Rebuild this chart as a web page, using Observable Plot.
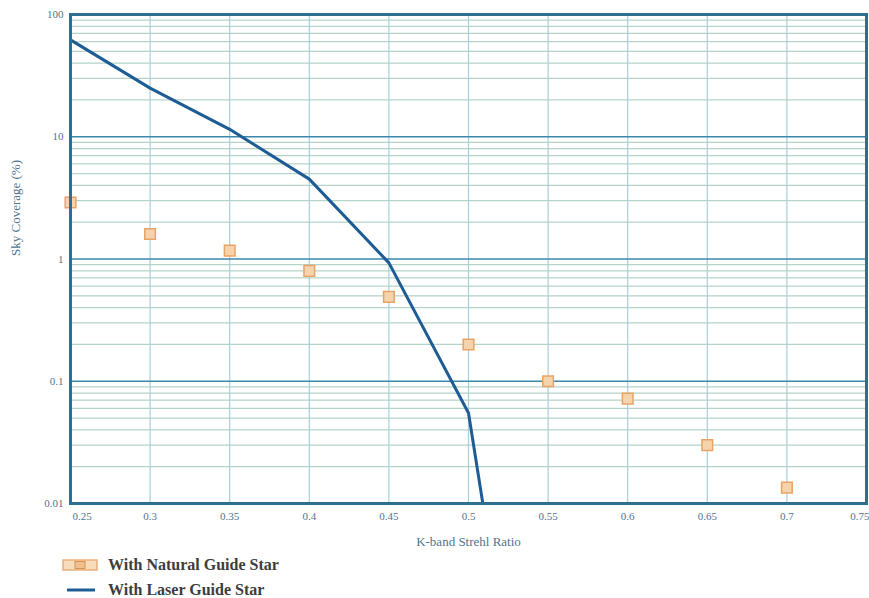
<!DOCTYPE html>
<html>
<head>
<meta charset="utf-8">
<script src="https://cdn.jsdelivr.net/npm/d3@7"></script>
<script src="https://cdn.jsdelivr.net/npm/@observablehq/plot@0.6"></script>
<style>
  html, body { margin: 0; padding: 0; background: #fff; }
  #chart { width: 869px; }
  #chart svg text { font-family: "Liberation Serif", "DejaVu Serif", serif !important; }
  .legend { font-family: "Liberation Serif", "DejaVu Serif", serif; font-weight: bold; font-size: 16px; color: #3d3d3d; margin-left: 62px; }
  .legend .row { display: flex; align-items: center; height: 25px; }
  .legend svg { margin-right: 10px; }
</style>
</head>
<body>
<div id="chart"></div>
<script>
// Strehl ratio (x) values
const strehlNGS = [0.25, 0.3, 0.35, 0.4, 0.45, 0.5, 0.55, 0.6, 0.65, 0.7];
// Sky coverage (%) with natural guide star
const coverageNGS = [2.9, 1.6, 1.17, 0.8, 0.49, 0.2, 0.1, 0.072, 0.03, 0.0135];
// Laser guide star curve
const strehlLGS = [0.25, 0.3, 0.35, 0.4, 0.45, 0.5, 0.509];
const coverageLGS = [62, 25, 11.5, 4.5, 0.93, 0.055, 0.01];

const xTicks = [0.25, 0.3, 0.35, 0.4, 0.45, 0.5, 0.55, 0.6, 0.65, 0.7, 0.75];
const xTickLabels = ["0.25", "0.3", "0.35", "0.4", "0.45", "0.5", "0.55", "0.6", "0.65", "0.7", "0.75"];
const yMajor = [0.01, 0.1, 1, 10, 100];
const yMajorLabels = ["0.01", "0.1", "1", "10", "100"];
const yMinor = [0.02, 0.03, 0.04, 0.05, 0.06, 0.07, 0.08, 0.09,
                0.2, 0.3, 0.4, 0.5, 0.6, 0.7, 0.8, 0.9,
                2, 3, 4, 5, 6, 7, 8, 9,
                20, 30, 40, 50, 60, 70, 80, 90];
const xTitle = "K-band Strehl Ratio";
const yTitle = "Sky Coverage (%)";

const ngs = strehlNGS.map((x, i) => ({x, y: coverageNGS[i]}));
const lgs = strehlLGS.map((x, i) => ({x, y: coverageLGS[i]}));

const serif = "Liberation Serif, DejaVu Serif, serif";
const fmtX = d => xTickLabels[xTicks.indexOf(d)];
const tickColor = "#4f7590";

const plot = Plot.plot({
  width: 869,
  height: 552,
  marginTop: 14,
  marginLeft: 70,
  marginRight: 3,
  marginBottom: 49,
  style: {fontFamily: serif, fontSize: "11px", color: tickColor, background: "#fff"},
  x: {domain: [0.25, 0.75], label: null},
  y: {type: "log", domain: [0.01, 100], label: null},
  marks: [
    Plot.ruleY(yMinor, {stroke: "#b5d3c6", strokeWidth: 1.2}),
    Plot.ruleX(xTicks, {stroke: "#a8cfdc", strokeWidth: 1.2}),
    Plot.ruleY(yMajor, {stroke: "#3c86ad", strokeWidth: 1.6}),
    Plot.axisX(xTicks.slice(1, -1), {tickFormat: fmtX, tickSize: 0, tickPadding: 9, fontSize: 11, fontFamily: serif}),
    Plot.axisX([xTicks[0]], {tickFormat: fmtX, tickSize: 0, tickPadding: 9, fontSize: 11, fontFamily: serif, textAnchor: "start", dx: 2}),
    Plot.axisX([xTicks[xTicks.length - 1]], {tickFormat: fmtX, tickSize: 0, tickPadding: 9, fontSize: 11, fontFamily: serif, textAnchor: "end", dx: 3}),
    Plot.axisY(yMajor, {tickFormat: d => yMajorLabels[yMajor.indexOf(d)], tickSize: 0, tickPadding: 7, fontSize: 11, fontFamily: serif}),
    Plot.text([xTitle], {text: d => d, frameAnchor: "bottom", dy: 42, fontSize: 13, fontFamily: serif, fill: tickColor}),
    Plot.text([yTitle], {text: d => d, frameAnchor: "left", dx: -55, dy: -3, rotate: -90, fontSize: 13, fontFamily: serif, fill: tickColor}),
    Plot.line(lgs, {x: "x", y: "y", stroke: "#1d5c94", strokeWidth: 3}),
    Plot.dot(ngs, {x: "x", y: "y", symbol: "square", r: 6, fill: "#f4d3ad", stroke: "#e7a466", strokeWidth: 1.5}),
    Plot.frame({stroke: "#2c6f8f", strokeWidth: 3})
  ]
});
document.getElementById("chart").appendChild(plot);

const legend = document.createElement("div");
legend.className = "legend";
legend.innerHTML = `
  <div class="row"><svg width="36" height="12"><rect x="1" y="1" width="34" height="10" fill="#f7dcbc" stroke="#eab07a" stroke-width="1.5"/><rect x="13" y="2.5" width="10" height="7" fill="#f0c18f" stroke="#d98e4e"/></svg><span>With Natural Guide Star</span></div>
  <div class="row"><svg width="36" height="12"><line x1="5" y1="6" x2="33" y2="6" stroke="#1d5c94" stroke-width="3"/></svg><span>With Laser Guide Star</span></div>`;
document.getElementById("chart").appendChild(legend);
</script>
</body>
</html>
